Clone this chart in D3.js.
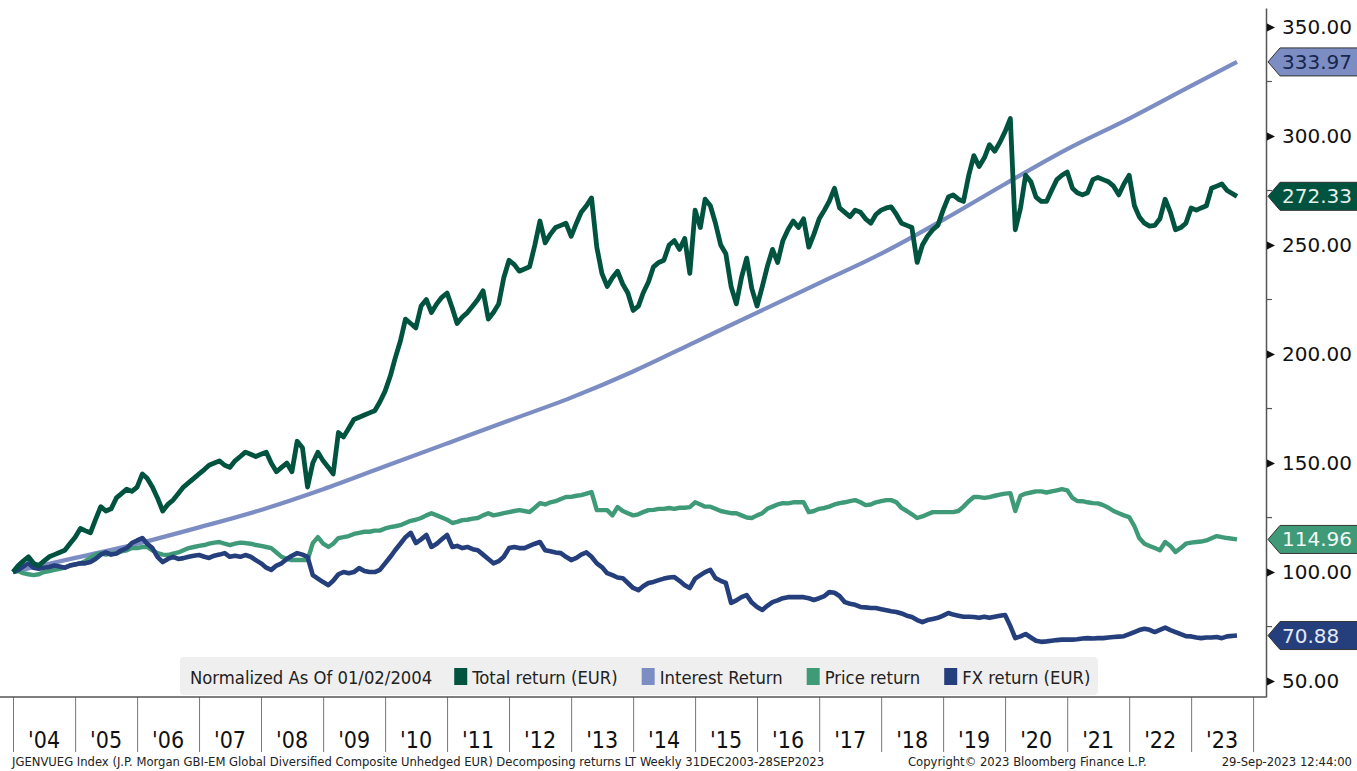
<!DOCTYPE html>
<html>
<head>
<meta charset="utf-8">
<script src="https://cdn.jsdelivr.net/npm/d3@7"></script>
<style>
  body { margin: 0; background: #fff; }
  svg { display: block; }
</style>
</head>
<body>
<div id="chart"></div>
<script>
// monthly readings, Jan 2004 .. Sep 2023 (normalised, 100 = 02 Jan 2004)
var totalReturn = [
  100,103,105,107,104,103,105,107,108,109,110,113,
  116,120,119,118,124,130,128,129,134,136,138,137,
  139,145,143,139,134,128,131,133,136,139,141,143,
  145,147,149,150,151,149,148,151,153,155,154,153,
  154,155,150,146,148,150,146,160,157,139,150,155,
  151,148,145,164,162,166,170,171,172,173,174,178,
  183,190,198,206,216,214,212,222,225,219,223,226,
  228,221,214,217,219,222,225,229,216,219,223,235,
  243,241,238,239,240,250,261,251,255,258,259,260,
  254,260,265,268,271.6,249,237,231,235,238,232,228,
  220,222,228,233,240,242,243,250,252,248,253,237,
  266,258,271,268,260,250,246,231,223,235,244,230,
  222,231,240,248,242,252,257,261,258,262,249,255,
  262,266,270,276,267,265,263,266,265,262,260,264,
  266,267,267.5,264,260,259,258,242,250,254,257,259,
  266,272,273,271,270,282,291,286,290,296,293,297,
  302,308,257,267,282,279,272,270,270,275,280,282,
  283.5,276,274,273,274,280,281,280,279,277,273,278,
  282,268,263,260,258.7,259,262,271,265,257,258,260,
  267,266,267,268,276,277,278,275,272.33
];
var priceReturn = [
  100,100.5,99.5,99,98.6,99,100,100.5,101,101.5,102,103,
  103.5,104,105,106.5,108,108.7,108,108.5,108.7,109.5,110,111,
  111,111.5,111.5,110,108.7,108,107.8,108.5,109,110,111,111.5,
  112,112.4,113,113.5,113.8,113,112.4,113,113.5,113.3,113,112.4,
  112,111.5,111,109,107,106,105.5,105.5,105.5,105.5,113.3,116,
  113,111.5,113,115.6,116,116.5,117.5,118,118.5,118.5,119,119,
  120,120.6,121,121.5,122.5,123.5,124,124.8,126,127,126,125,
  124,122.5,123,123.8,124,124.5,124.8,126,127,126,126.5,127,
  127.5,128,128.4,128,127.5,129.5,131.6,131,132,132.5,133.5,134.4,
  134.5,135,135.3,136,136.7,128.4,128.4,128.4,126,129.8,128,127,
  126,126.5,127.5,128.4,128.5,129,129,129.4,129,129.5,129.5,129.8,
  132,131,130,130,129,128,127.5,127,127,126,125,124.8,
  126,127,129,130,131,131.6,131.5,132,132,132,127.5,128,
  129,129.4,130,131,131.6,132,132.5,133,132,130.7,131,132,
  132.5,133,133,132,129.4,128,126.5,124.8,125.5,126.5,127.5,127.5,
  127.5,127.5,127.5,128,130,132.5,134.4,134.4,134,134.4,135,135.5,
  136,136.2,128,135,136,136.5,137,137,136.5,137,137.5,138,
  137.5,134,132.6,132.5,132,131.6,131.5,130.7,129.5,128,127,126,
  125.2,121,115.6,113,112,111,110,113.8,112,109.2,111,113,
  113.5,113.8,114,114.5,115.5,116.5,116,115.6,114.96
];
var fxReturn = [
  100,101,102.5,104,102,101.5,102,102.3,103,102.5,102,103,
  103.5,104,104,104.6,106,108,109,108,108.5,110,111,113.3,
  114.5,115.6,113,111,107,104.6,106,107,106,106.4,107,107.5,
  107.8,107,106.5,107.5,108,108.7,107,107.5,107,107.8,107,105.5,
  104,102,101,103,104,106,107.5,108.7,108,107,98.6,97,
  95.4,94,96,99,100,99.5,100,101.8,100.5,100,100,101,
  104,107,110,113,116,118,113.3,115,117,111.5,113,115,
  117,111.5,112,111,111.5,110.5,110,108,106,104,105,107,
  111,111.5,111,111,112,113,113.8,110,109.5,109,108.7,107,
  105.5,106.5,108,109,107,104,102.3,99.5,98.6,97.5,97.2,95,
  92.7,91.7,93.5,95,95.5,96.3,97,97.5,97.7,96,94,92.7,
  97,98.6,100,101,97.2,96,95,85.8,87,88.5,89.4,86,
  84,82.6,84.5,86.2,87,88,88.5,88.5,88.5,88.5,88,87.2,
  88,89,90.8,90.5,89,86.2,85.5,85,84,83.8,83.5,83.5,
  83,82.5,82,81.7,81,80,79.4,78,77,78,78.5,79,
  80,81.2,80.5,80,79.5,79.5,79.4,79,79.5,79,79.5,80,
  80.3,75.2,69.7,70.5,71.6,70,68.5,68,68.2,68.5,68.8,69,
  69,69,69.2,69.5,69.7,69.5,69.7,69.7,70,70.2,70.4,70.6,
  71.5,72.5,73.4,74,73.5,72.5,73.5,74.5,73.4,72.5,71.5,70.6,
  70.5,70,69.7,70,70,70.2,69.7,70.5,70.88
];
// interest return is smooth, read once a year (Jan) plus the last point
var interestYears = [2004,2005,2006,2007,2008,2009,2010,2011,2012,2013,2014,2015,2016,2017,2018,2019,2020,2021,2022,2023];
var interestReturn = [100,106.5,113,120.5,128.5,138,148.5,159,169.5,180,192,205.5,219,232.5,246,261.5,278,294,308,323,333.97];

var yTicks = [50,100,150,200,250,300,350];
var yMinor = [75,125,175,225,275,325];
var yearLabels = ["'04","'05","'06","'07","'08","'09","'10","'11","'12","'13","'14","'15","'16","'17","'18","'19","'20","'21","'22","'23"];

var seriesNames = ["Total return (EUR)","Interest Return","Price return","FX return (EUR)"];
var colors = ["#00533f","#7c8dc3","#3f9a78","#243f7c"];
var tagText = ["#e6efea","#17264d","#f2f7f4","#e4e9f3"];

var lastDate = new Date(2023,8,28);
var months = d3.timeMonth.range(new Date(2004,0,1), new Date(2023,9,1));
months[months.length-1] = lastDate;
var interestDates = interestYears.map(function(y){ return new Date(y,0,1); }).concat([lastDate]);

var width = 1357, height = 771;
var svg = d3.select("#chart").append("svg")
  .attr("width", width).attr("height", height);

var x = d3.scaleTime().domain([new Date(2004,0,1), new Date(2024,2,17)]).range([13, 1266]);
var y = d3.scaleLinear().domain([42.7, 358.7]).range([697, 8]);

var fontMain = "'DejaVu Sans', Verdana, sans-serif";
var fontCond = "'DejaVu Sans Condensed', 'DejaVu Sans', sans-serif";

// lines
function mk(dates, vals){ return vals.map(function(v,i){ return {d: dates[i], v: v}; }); }
var line = d3.line().x(function(p){ return x(p.d); }).y(function(p){ return y(p.v); });
var smooth = d3.line().curve(d3.curveMonotoneX).x(function(p){ return x(p.d); }).y(function(p){ return y(p.v); });

var g = svg.append("g");
g.append("path").datum(mk(interestDates, interestReturn)).attr("d", smooth)
  .attr("fill","none").attr("stroke",colors[1]).attr("stroke-width",4.2);
g.append("path").datum(mk(months, priceReturn)).attr("d", line)
  .attr("fill","none").attr("stroke",colors[2]).attr("stroke-width",4.4).attr("stroke-linejoin","round");
g.append("path").datum(mk(months, fxReturn)).attr("d", line)
  .attr("fill","none").attr("stroke",colors[3]).attr("stroke-width",4.6).attr("stroke-linejoin","round");
g.append("path").datum(mk(months, totalReturn)).attr("d", line)
  .attr("fill","none").attr("stroke",colors[0]).attr("stroke-width",4.8).attr("stroke-linejoin","round");

// right axis
var yAxis = d3.axisRight(y).tickValues(yTicks).tickFormat(d3.format(".2f")).tickSize(0).tickSizeOuter(0).tickPadding(16);
var ya = svg.append("g").attr("transform","translate(1266,0)").call(yAxis);
ya.select(".domain").attr("stroke","#555").attr("stroke-width",1.5);
ya.selectAll("text").attr("font-family",fontMain).attr("font-size",20).attr("fill","#111");
ya.selectAll(".tick").append("path").attr("d","M1,-4L9,0L1,4Z").attr("fill","#111");
svg.append("g").selectAll("line").data(yMinor).enter().append("line")
  .attr("x1",1266).attr("x2",1272).attr("y1",function(d){return y(d);}).attr("y2",function(d){return y(d);})
  .attr("stroke","#555").attr("stroke-width",1.2);

// bottom axis with year separators
var xAxis = d3.axisBottom(x).ticks(d3.timeYear.every(1)).tickFormat("").tickSizeInner(55).tickSizeOuter(0);
var xa = svg.append("g").attr("transform","translate(0,697)").call(xAxis);
xa.select(".domain").remove();
xa.selectAll(".tick line").attr("stroke","#777").attr("stroke-width",1);
svg.append("line").attr("x1",0).attr("x2",1266).attr("y1",697).attr("y2",697)
  .attr("stroke","#555").attr("stroke-width",1.5);
svg.append("g").selectAll("text").data(yearLabels).enter().append("text")
  .attr("x",function(d,i){ return (x(new Date(2004+i,0,1)) + x(new Date(2005+i,0,1)))/2; })
  .attr("y",748).attr("text-anchor","middle")
  .attr("font-family",fontCond).attr("font-size",23).attr("fill","#111")
  .text(function(d){ return d; });

// legend
var lg = svg.append("g");
lg.append("rect").attr("x",180).attr("y",657).attr("width",918).attr("height",38).attr("rx",4)
  .attr("fill","#efefef");
var lx = 190;
var t0 = lg.append("text").attr("x",lx).attr("y",684).attr("font-family",fontCond).attr("font-size",18.3)
  .attr("fill","#222").text("Normalized As Of 01/02/2004");
lx += t0.node().getComputedTextLength() + 22;
seriesNames.forEach(function(n,i){
  lg.append("rect").attr("x",lx).attr("y",668).attr("width",13).attr("height",17).attr("fill",colors[i]);
  var t = lg.append("text").attr("x",lx+18).attr("y",684).attr("font-family",fontCond).attr("font-size",18.3)
    .attr("fill","#222").text(n);
  lx += 18 + t.node().getComputedTextLength() + 24;
});

// last value tags
var lastVals = [totalReturn[totalReturn.length-1], interestReturn[interestReturn.length-1], priceReturn[priceReturn.length-1], fxReturn[fxReturn.length-1]];
lastVals.forEach(function(v,i){
  var cy = y(v), x0 = 1268;
  svg.append("path")
    .attr("d","M"+x0+","+cy+"L"+(x0+12)+","+(cy-14)+"L1360,"+(cy-14)+"L1360,"+(cy+14)+"L"+(x0+12)+","+(cy+14)+"Z")
    .attr("fill",colors[i]).attr("stroke","#333").attr("stroke-width",1);
  svg.append("text").attr("x",x0+14).attr("y",cy+7).attr("font-family",fontMain).attr("font-size",20)
    .attr("fill",tagText[i]).text(d3.format(".2f")(v));
});

// footer
var ft = svg.append("g").attr("font-family",fontCond).attr("font-size",12.9).attr("fill","#222");
ft.append("text").attr("x",12).attr("y",766)
  .text("JGENVUEG Index (J.P. Morgan GBI-EM Global Diversified Composite Unhedged EUR) Decomposing returns LT  Weekly 31DEC2003-28SEP2023");
ft.append("text").attr("x",908).attr("y",766).text("Copyright\u00A9 2023 Bloomberg Finance L.P.");
ft.append("text").attr("x",1352).attr("y",766).attr("text-anchor","end").text("29-Sep-2023 12:44:00");
</script>
</body>
</html>
